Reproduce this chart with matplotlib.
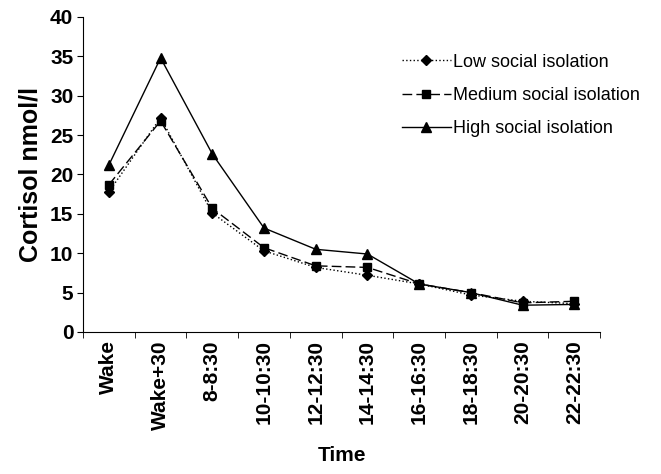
import matplotlib
matplotlib.use('Agg')
import matplotlib.pyplot as plt
import numpy as np

plt.rcParams['font.family'] = ['Liberation Sans', 'DejaVu Sans']
plt.rcParams['font.weight'] = 'bold'
plt.rcParams['axes.labelweight'] = 'bold'

# Data
times = ['Wake', 'Wake+30', '8-8:30', '10-10:30', '12-12:30',
         '14-14:30', '16-16:30', '18-18:30', '20-20:30', '22-22:30']
low = [17.8, 27.2, 15.1, 10.3, 8.2, 7.2, 6.1, 4.7, 3.9, 3.6]
medium = [18.7, 26.8, 15.7, 10.7, 8.4, 8.2, 6.1, 5.0, 3.7, 3.9]
high = [21.2, 34.8, 22.6, 13.2, 10.5, 9.9, 6.1, 5.0, 3.4, 3.5]

fig = plt.figure(figsize=(6.61, 4.74), dpi=100)
ax = fig.add_axes([0.1256, 0.2996, 0.7824, 0.6646])

x = np.arange(len(times))
ax.plot(x, low, color='black', linestyle=':', linewidth=1,
        marker='D', markersize=5, label='Low social isolation')
ax.plot(x, medium, color='black', linestyle=(0, (7, 3)), linewidth=1,
        marker='s', markersize=6, label='Medium social isolation')
ax.plot(x, high, color='black', linestyle='-', linewidth=1,
        marker='^', markersize=7, label='High social isolation')

ax.set_xlim(-0.5, len(times) - 0.5)
ax.set_ylim(0, 40)
ax.set_yticks(np.arange(0, 41, 5))
ax.set_xticks(x)
ax.set_xticklabels(times, rotation=90, fontsize=15)
ax.set_xticks(np.arange(-0.5, len(times), 1), minor=True)
ax.tick_params(axis='x', which='major', length=0, pad=6)
ax.tick_params(axis='x', which='minor', length=4, direction='out')
ax.tick_params(axis='y', length=4, direction='out', labelsize=15, pad=3)

ax.spines['top'].set_visible(False)
ax.spines['right'].set_visible(False)

ax.set_ylabel('Cortisol nmol/l', fontsize=18, fontweight='bold', labelpad=5)
ax.set_xlabel('Time', fontsize=15, fontweight='bold', labelpad=12)

ax.legend(loc='upper left', bbox_to_anchor=(0.585, 0.935), frameon=False,
          prop={'size': 13, 'weight': 'normal'}, handlelength=2.7,
          labelspacing=0.9, handletextpad=0.15)

fig.savefig('out.png', dpi=100)
